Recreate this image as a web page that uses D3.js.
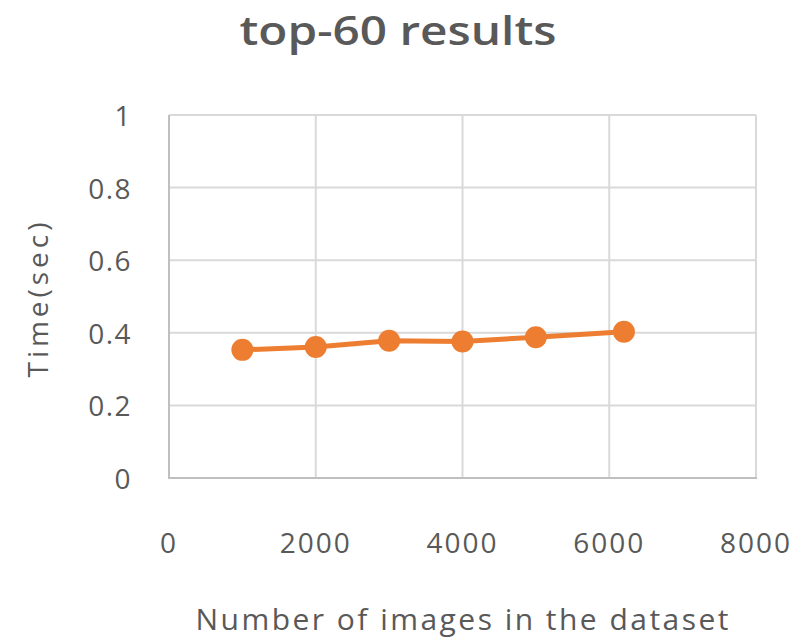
<!DOCTYPE html>
<html>
<head>
<meta charset="utf-8">
<script src="https://cdn.jsdelivr.net/npm/d3@7"></script>
<style>
  html, body { margin: 0; padding: 0; background: #fff; }
  svg { display: block; }
  text { font-family: "Open Sans", "DejaVu Sans", sans-serif; fill: #595959; }
</style>
</head>
<body>
<svg id="chart" width="805" height="638"></svg>
<script>
// Query time vs. dataset size
const imageCounts = [1000, 2000, 3000, 4000, 5000, 6200];
const timesSec = [0.353, 0.361, 0.378, 0.376, 0.388, 0.403];
const xTicks = [0, 2000, 4000, 6000, 8000];
const yTicks = [0, 0.2, 0.4, 0.6, 0.8, 1];

const titleText = "top-60 results";
const xTitle = "Number of images in the dataset";
const yTitle = "Time(sec)";

const W = 805, H = 638;
const plot = { left: 169, right: 756, top: 115, bottom: 478 };

const svg = d3.select("#chart");

const x = d3.scaleLinear().domain([0, 8000]).range([plot.left, plot.right]);
const y = d3.scaleLinear().domain([0, 1]).range([plot.bottom, plot.top]);

// Gridlines
const grid = svg.append("g");
grid.selectAll("line.h").data(yTicks.filter(d => d > 0)).join("line")
  .attr("x1", plot.left).attr("x2", plot.right)
  .attr("y1", d => y(d)).attr("y2", d => y(d))
  .attr("stroke", "#d9d9d9").attr("stroke-width", 2);
grid.selectAll("line.v").data(xTicks.filter(d => d > 0)).join("line")
  .attr("x1", d => x(d)).attr("x2", d => x(d))
  .attr("y1", plot.top).attr("y2", plot.bottom)
  .attr("stroke", "#d9d9d9").attr("stroke-width", 2);

// Axis lines
svg.append("line")
  .attr("x1", plot.left).attr("x2", plot.left)
  .attr("y1", plot.top).attr("y2", plot.bottom + 1)
  .attr("stroke", "#bfbfbf").attr("stroke-width", 2);
svg.append("line")
  .attr("x1", plot.left).attr("x2", plot.right + 1)
  .attr("y1", plot.bottom).attr("y2", plot.bottom)
  .attr("stroke", "#bfbfbf").attr("stroke-width", 2);

// Tick labels
svg.append("g").selectAll("text").data(yTicks).join("text")
  .attr("x", 132).attr("y", d => y(d))
  .attr("text-anchor", "end").attr("dominant-baseline", "central")
  .attr("font-size", 28).attr("letter-spacing", 1.5)
  .text(d => d3.format("")(d));

svg.append("g").selectAll("text").data(xTicks).join("text")
  .attr("x", d => x(d)).attr("y", 553)
  .attr("text-anchor", "middle")
  .attr("font-size", 28).attr("letter-spacing", 2)
  .text(d => d);

// Series line and markers
const line = d3.line().x((d, i) => x(imageCounts[i])).y(d => y(d));
svg.append("path").datum(timesSec)
  .attr("d", line)
  .attr("fill", "none").attr("stroke", "#ed7d31").attr("stroke-width", 5)
  .attr("stroke-linejoin", "round");
svg.append("g").selectAll("circle").data(timesSec).join("circle")
  .attr("cx", (d, i) => x(imageCounts[i])).attr("cy", d => y(d))
  .attr("r", 11).attr("fill", "#ed7d31");

// Titles
svg.append("text")
  .attr("x", 398).attr("y", 45)
  .attr("text-anchor", "middle")
  .attr("font-size", 40).attr("font-weight", 600)
  .attr("textLength", 317).attr("lengthAdjust", "spacingAndGlyphs")
  .text(titleText);

svg.append("text")
  .attr("x", 462).attr("y", 630)
  .attr("text-anchor", "middle")
  .attr("font-size", 30)
  .attr("textLength", 533).attr("lengthAdjust", "spacing")
  .text(xTitle);

svg.append("text")
  .attr("transform", "translate(48,300) rotate(-90)")
  .attr("text-anchor", "middle")
  .attr("font-size", 28)
  .attr("textLength", 155).attr("lengthAdjust", "spacing")
  .text(yTitle);
</script>
</body>
</html>
